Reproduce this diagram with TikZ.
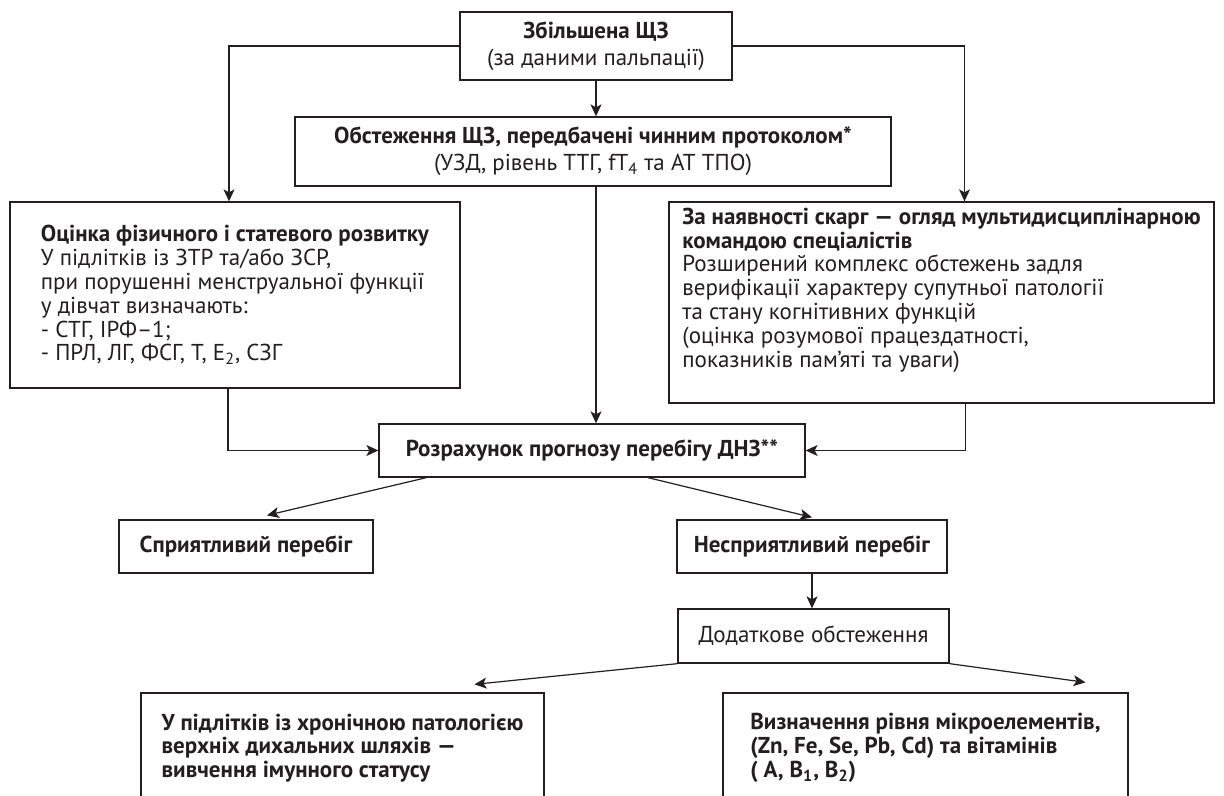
\documentclass[tikz,border=0pt]{standalone}
\usepackage{fontspec}
\setmainfont{PT Sans}
\usetikzlibrary{arrows.meta,positioning,calc}
\definecolor{ink}{HTML}{231F20}

\begin{document}
\begin{tikzpicture}[x=0.5pt,y=-0.5pt,
	every node/.style={font=\fontsize{11.5}{11.9}\selectfont, text=ink},
	box/.style={draw=ink, line width=0.65pt, inner sep=0pt},
	cbox/.style={box, align=center},
	lbox/.style={box, align=left},
	link/.style={draw=ink, line width=0.6pt},
	arr/.style={link, -{Stealth[length=6pt,width=5.5pt,inset=1.5pt]}}]
	\fill[white] (0,0) rectangle (1224,796);
	\useasboundingbox (0,0) rectangle (1224,796);

	\node[cbox, minimum width=136pt, minimum height=34pt, font=\fontsize{11.5}{13.5}\selectfont] (enl) at (596,46)
		{\textbf{Збільшена ЩЗ}\\(за даними пальпації)};
	\node[cbox, minimum width=298pt, minimum height=34.5pt, font=\fontsize{11.5}{13.5}\selectfont] (prot) at (593,151.5)
		{\textbf{Обстеження ЩЗ, передбачені чинним протоколом*}\\(УЗД, рівень ТТГ, fT\textsubscript{4} та АТ ТПО)};
	\node[lbox, minimum width=225pt, minimum height=93pt] (phys) at (235,295)
		{\textbf{Оцінка фізичного і статевого розвитку}\\У підлітків із ЗТР та/або ЗСР,\\при порушенні менструальної функції\\у дівчат визначають:\\- СТГ, ІРФ–1;\\- ПРЛ, ЛГ, ФСГ, Т, Е\textsubscript{2}, СЗГ};
	\node[lbox, minimum width=272.5pt, minimum height=100.5pt] (compl) at (941.5,302.5)
		{\textbf{За наявності скарг — огляд мультидисциплінарною}\\\textbf{командою спеціалістів}\\Розширений комплекс обстежень задля\\верифікації характеру супутньої патології\\та стану когнітивних функцій\\(оцінка розумової працездатності,\\показників пам’яті та уваги)\\[3pt]};
	\node[cbox, minimum width=213pt, minimum height=26.5pt] (calc) at (592,450.5)
		{\textbf{Розрахунок прогнозу перебігу ДНЗ**}};
	\node[cbox, minimum width=127pt, minimum height=26.5pt] (fav) at (246,546.5)
		{\textbf{Сприятливий перебіг}};
	\node[cbox, minimum width=135pt, minimum height=26.5pt] (unfav) at (812,546.5)
		{\textbf{Несприятливий перебіг}};
	\node[cbox, minimum width=135.5pt, minimum height=27pt] (extra) at (813.5,636)
		{Додаткове обстеження};
	\node[lbox, minimum width=201.5pt, minimum height=55pt] (immun) at (342.5,748)
		{\textbf{У підлітків із хронічною патологією}\\\textbf{верхніх дихальних шляхів —}\\\textbf{вивчення імунного статусу}};
	\node[lbox, minimum width=202.5pt, minimum height=55pt] (micro) at (925.5,748)
		{\textbf{Визначення рівня мікроелементів,}\\\textbf{(Zn, Fe, Se, Pb, Cd) та вітамінів}\\\textbf{( A, B\textsubscript{1}, B\textsubscript{2})}};

	\draw[arr] (enl.west) -| ([xshift=-3pt]phys.north);
	\draw[arr] (enl.east) -| ([xshift=11.5pt]compl.north);
	\draw[arr] (enl.south) -- (enl.south |- prot.north);
	\draw[arr] (enl.south |- prot.south) -- (enl.south |- calc.north);
	\draw[arr] ([xshift=-3.5pt]phys.south) |- (calc.west);
	\draw[arr] ([xshift=12pt]compl.south) |- (calc.east);
	\draw[arr] ([xshift=24pt]calc.south west) -- ([xshift=10.5pt,yshift=2pt]fav.north);
	\draw[arr] ([xshift=28pt]calc.south) -- ([yshift=1pt]unfav.north);
	\draw[arr] (unfav.south) -- (unfav.south |- extra.north);
	\draw[arr] (extra.south west) -- ([xshift=66pt,yshift=4pt]immun.north);
	\draw[arr] (extra.south east) -- ([xshift=80pt,yshift=5pt]micro.north);
\end{tikzpicture}
\end{document}
